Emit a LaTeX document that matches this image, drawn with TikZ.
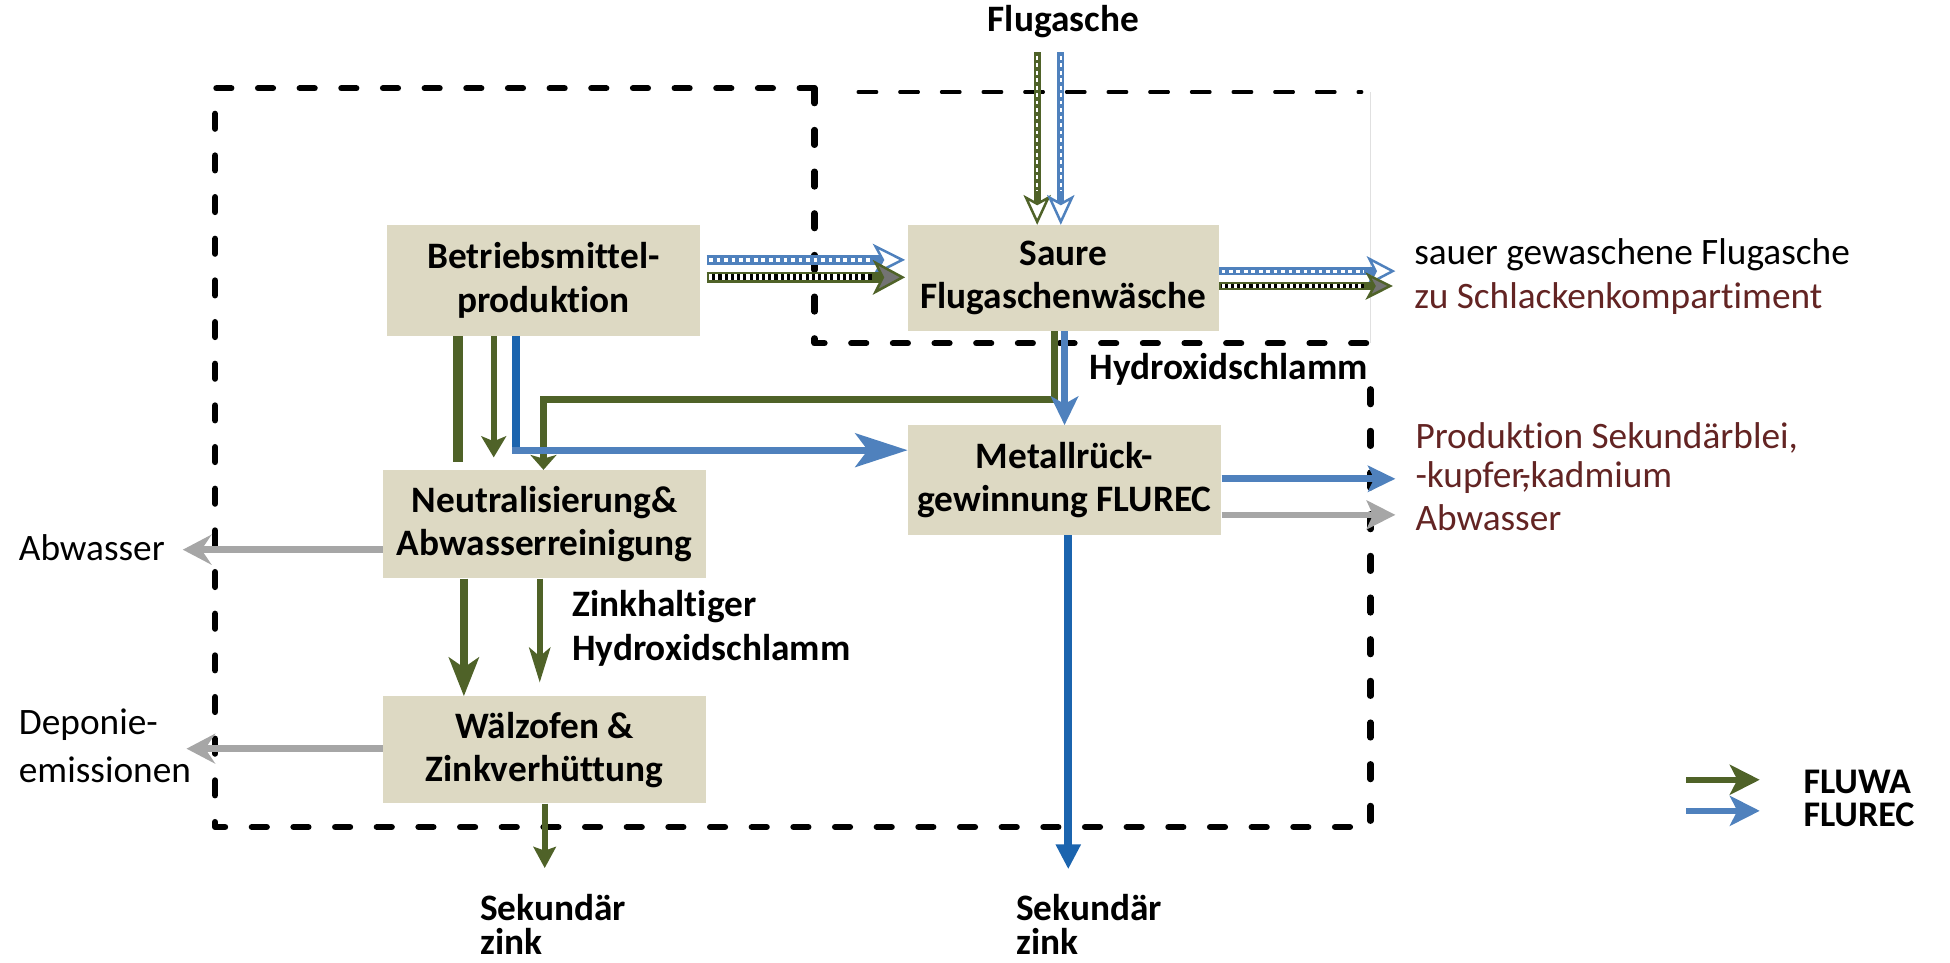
\documentclass[tikz,border=0pt]{standalone}
\usepackage{fontspec}
\setmainfont{Carlito}[Ligatures={NoCommon,NoContextual}]
\usetikzlibrary{arrows.meta,calc}
\definecolor{beige}{HTML}{DDD9C3}
\definecolor{fgreen}{HTML}{4F6228}
\definecolor{fblue}{HTML}{4F81BD}
\definecolor{dblue}{HTML}{1B64AE}
\definecolor{agray}{HTML}{A6A6A6}
\definecolor{dred}{HTML}{632423}
\begin{document}
\begin{tikzpicture}[x=1pt,y=-1pt,
  box/.style={fill=beige, align=center, inner sep=0pt, font=\bfseries\fontsize{30}{35}\selectfont},
  txt/.style={inner sep=0pt, anchor=west, font=\fontsize{30}{36}\selectfont},
  btxt/.style={inner sep=0pt, anchor=west, font=\bfseries\fontsize{30}{36}\selectfont},
  dframe/.style={line width=5pt, dash pattern=on 12pt off 21.5pt, line cap=round, line join=round},
  wdash/.style={white, line width=#1, dash pattern=on 3pt off 3pt},
  bdash/.style={black, line width=#1},
]
\useasboundingbox (0,0) rectangle (1568,774);

% dashed frames
\draw[dframe] (655,71) -- (173,71) -- (173,665) -- (1102,665) -- (1102,292);
\draw[dframe] (655,71) -- (655,276) -- (1102,276);
\draw[line width=2.5pt, dash pattern=on 15pt off 18.5pt, line cap=round] (690,74) -- (1095,74);
\draw[black!12, line width=0.8pt] (1102,74) -- (1102,276);

% process boxes
\node[box, minimum width=252pt, minimum height=89pt] (bp) at (437,225.5) {Betriebsmittel-\\produktion};
\node[box, minimum width=250pt, minimum height=85pt] (sa) at (855,223.5) {Saure\\Flugaschenwäsche};
\node[box, minimum width=252pt, minimum height=88pt] (me) at (856,386) {Metallrück-\\gewinnung FLUREC};
\node[box, minimum width=260pt, minimum height=87pt] (ne) at (438,421.5) {Neutralisierung\&\\Abwasserreinigung};
\node[box, minimum width=260pt, minimum height=86pt] (wz) at (438,603) {Wälzofen \&\\Zinkverhüttung};

% labels
\node[btxt, anchor=center] (fl) at (855,17) {Flugasche};
\node[btxt] (hy) at (876,297) {Hydroxidschlamm};
\node[txt] (sg) at (1137,205) {sauer gewaschene Flugasche};
\node[txt, text=dred] (zs) at (1137,240) {zu Schlackenkompartiment};
\node[txt, text=dred] (ps) at (1138,352) {Produktion Sekundärblei,};
\node[txt, text=dred] (kk) at (1138,384) {-kupfer,\kern-0.3em-kadmium};
\node[txt, text=dred] (aw2) at (1138,416) {Abwasser};
\node[txt] (aw1) at (15,440) {Abwasser};
\node[txt] (dp1) at (15,583) {Deponie-};
\node[txt] (dp2) at (15,619) {emissionen};
\node[btxt] (zh1) at (460,488) {Zinkhaltiger};
\node[btxt] (zh2) at (460,523) {Hydroxidschlamm};
\node[btxt] (sk1) at (386,730) {Sekundär};
\node[btxt] (sk2) at (386,757) {zink};
\node[btxt] (sk3) at (817,730) {Sekundär};
\node[btxt] (sk4) at (817,757) {zink};
\node[btxt, font=\bfseries\fontsize{29}{30}\selectfont] (lg1) at (1450,629) {FLUWA};
\node[btxt, font=\bfseries\fontsize{29}{30}\selectfont] (lg2) at (1450,655) {FLUREC};

% coordinates for free ends
\coordinate (fg) at (834,42);
\coordinate (fb) at (853,42);
\coordinate (so1) at (1122,218);
\coordinate (so2) at (1120,230);
\coordinate (gj1) at (848,321);
\coordinate (gj2) at (437,321);
\coordinate (bj) at (415,362);
\coordinate (mo1) at (1122,385);
\coordinate (mo2) at (1122,414);
\coordinate (mz) at (859,699);
\coordinate (ab) at (147,442);
\coordinate (dp) at (150,602);
\coordinate (wzd) at (438,698);
\coordinate (l1s) at (1356,627);
\coordinate (l1e) at (1415,627);
\coordinate (l2s) at (1356,652);
\coordinate (l2e) at (1415,652);

% Flugasche inputs (patterned)
\draw[fgreen, line width=5.5pt, -{Stealth[length=24pt,width=22pt,inset=6pt,line width=2pt,fill=white]}] (fg) -- (sa.north -| fg);
\draw[wdash=2pt] ($(fg)+(0,3)$) -- ($(sa.north -| fg)+(0,-27)$);
\draw[fblue, line width=5.5pt, -{Stealth[length=24pt,width=22pt,inset=6pt,line width=2pt,fill=white]}] (fb) -- (sa.north -| fb);
\draw[wdash=2pt] ($(fb)+(0,3)$) -- ($(sa.north -| fb)+(0,-27)$);

% Betriebsmittel -> Saure (patterned)
\coordinate (b1s) at ([yshift=16.5pt,xshift=5pt]bp.east);
\coordinate (b1e) at ([yshift=14.5pt,xshift=-2pt]sa.west);
\coordinate (b2s) at ([yshift=2.5pt,xshift=5pt]bp.east);
\coordinate (b2e) at ([yshift=0.5pt,xshift=-2pt]sa.west);
\draw[fblue, line width=8pt, -{Stealth[length=26pt,width=26pt,inset=7pt,line width=2pt,fill=white]}] (b1s) -- (b1e);
\draw[wdash=3.5pt] ($(b1s)+(2,0)$) -- ($(b1e)+(-28,0)$);
\draw[fgreen, line width=8.5pt, -{Stealth[length=26pt,width=28pt,inset=7pt,line width=2pt,fill=black!55]}] (b2s) -- (b2e);
\draw[bdash=5pt] ($(b2s)+(1.5,0)$) -- ($(b2e)+(-27,0)$);
\draw[white, line width=5pt, dash pattern=on 2.5pt off 2.5pt] ($(b2s)+(2,0)$) -- ($(b2e)+(-28,0)$);

% Saure -> out (patterned)
\draw[fblue, line width=6pt, -{Stealth[length=23pt,width=24pt,inset=6pt,line width=2pt,fill=white]}] (sa.east |- so1) -- (so1);
\draw[wdash=2.5pt] ($(sa.east |- so1)+(2,0)$) -- ($(so1)+(-25,0)$);
\draw[fgreen, line width=6pt, -{Stealth[length=22pt,width=22pt,inset=6pt,line width=2pt,fill=black!55]}] (sa.east |- so2) -- (so2);
\draw[bdash=3pt] ($(sa.east |- so2)+(1.5,0)$) -- ($(so2)+(-23,0)$);
\draw[white, line width=3pt, dash pattern=on 2.5pt off 2.5pt] ($(sa.east |- so2)+(2,0)$) -- ($(so2)+(-24,0)$);

% Saure -> Neutralisierung (green) and -> Metall (blue)
\draw[fgreen, line width=5.5pt, line join=miter, -{Stealth[length=12pt,width=21pt,inset=3pt]}] (sa.south -| gj1) -- (gj1) -- (gj2) -- (ne.north -| gj2);
\draw[fblue, line width=5pt, -{Stealth[length=23pt,width=22pt,inset=6pt]}] (sa.south -| me.north) -- (me.north);

% Betriebsmittel down
\draw[fgreen, line width=8pt] ([xshift=-69pt]bp.south) -- ([xshift=-70pt,yshift=6pt]ne.north);
\draw[fgreen, line width=5pt, -{Stealth[length=17pt,width=20pt,inset=4pt]}] ([xshift=-40pt]bp.south) -- ([xshift=-41pt,yshift=10pt]ne.north);
\draw[dblue, line width=6.5pt] (bp.south -| bj) -- ($(bj)+(0,3)$);
\draw[fblue, line width=5.5pt, -{Stealth[length=42pt,width=27pt,inset=10pt]}] ($(bj)+(-3,0)$) -- (me.west |- bj);

% Metall outputs
\draw[fblue, line width=5.5pt, -{Stealth[length=22pt,width=21pt,inset=5pt]}] (me.east |- mo1) -- (mo1);
\draw[agray, line width=4.5pt, -{Stealth[length=23pt,width=23pt,inset=5pt]}] (me.east |- mo2) -- (mo2);
\draw[dblue, line width=6.5pt, -{Triangle[length=20pt,width=19pt]}] (me.south -| mz) -- (mz);

% Neutralisierung / Waelzofen
\draw[agray, line width=6pt, -{Stealth[length=23pt,width=24pt,inset=8pt]}] (ne.west |- ab) -- (ab);
\draw[agray, line width=6pt, -{Stealth[length=23pt,width=24pt,inset=8pt]}] (wz.west |- dp) -- (dp);
\draw[fgreen, line width=6pt, -{Stealth[length=31pt,width=24pt,inset=8pt]}] ([xshift=-65pt]ne.south) -- ([xshift=-65pt]wz.north);
\draw[fgreen, line width=4.5pt, -{Stealth[length=28pt,width=17pt,inset=7pt]}] ([xshift=-4pt]ne.south) -- ([xshift=-4pt,yshift=11pt]wz.north);
\draw[fgreen, line width=4.5pt, -{Stealth[length=17pt,width=18pt,inset=3pt]}] (wz.south -| wzd) -- (wzd);

% legend
\draw[fgreen, line width=4.5pt, -{Stealth[length=24pt,width=24pt,inset=6pt]}] (l1s) -- (l1e);
\draw[fblue, line width=4.5pt, -{Stealth[length=24pt,width=24pt,inset=6pt]}] (l2s) -- (l2e);
\end{tikzpicture}
\end{document}
